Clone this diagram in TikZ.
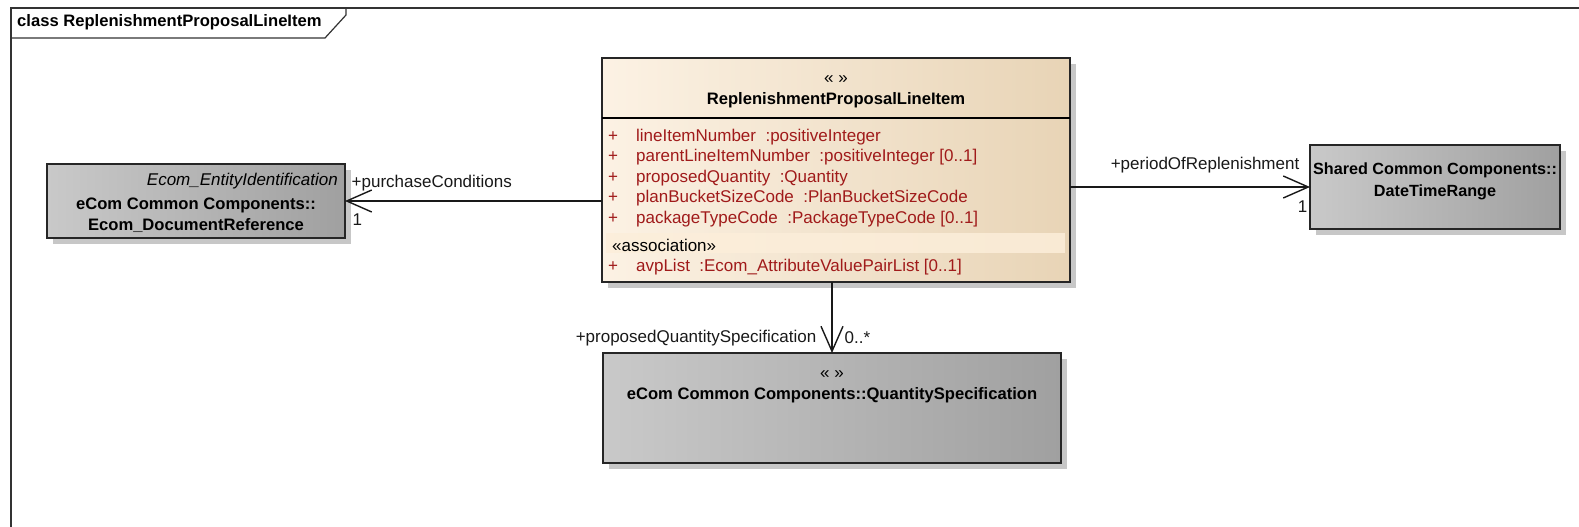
\documentclass[tikz,border=0pt]{standalone}
\usepackage{fontspec}
\setmainfont{Liberation Sans}
\usetikzlibrary{arrows.meta,positioning,shadows}

\definecolor{creamleft}{HTML}{FCF2E4}
\definecolor{creamright}{HTML}{E8D4B6}
\definecolor{greyleft}{HTML}{C9C9C9}
\definecolor{greyright}{HTML}{A0A0A0}
\definecolor{attrred}{HTML}{A01A1A}
\definecolor{assocband}{HTML}{FCEEDA}

\begin{document}
\begin{tikzpicture}[x=1pt,y=-1pt]

      \tikzstyle{classbox}=[rectangle,draw=black!85,line width=1.6pt,
        inner sep=0pt,outer sep=0pt,
        left color=creamleft,right color=creamright,
        drop shadow={shadow xshift=6pt,shadow yshift=-6pt,
          fill=black!22,opacity=1}]
      \tikzstyle{greybox}=[classbox,
        left color=greyleft,right color=greyright]
      \tikzstyle{assoc}=[line width=1.4pt,black!90,
        -{Straight Barb[length=25pt,width=22pt]}]
      \tikzstyle{txt}=[inner sep=0pt,
        font=\fontsize{17}{20.5}\selectfont]
      \tikzstyle{boldtxt}=[inner sep=0pt,
        font=\fontsize{16.6}{21}\selectfont\bfseries]

      \useasboundingbox (0,0) rectangle (1579,527);
      \fill[white] (0,0) rectangle (1579,527);

      % diagram frame
      \draw[black!80,line width=1.2pt] (11,527) -- (11,8) -- (1579,8);
      \draw[black!80,line width=1.2pt]
      (11,38) -- (325,38) -- (346,15) -- (346,8);
      \node(Title)[boldtxt,anchor=west] at (17,22)
      {class ReplenishmentProposalLineItem};

      % main class
      \node(LineItem)[classbox,minimum width=468pt,
        minimum height=224pt] at (836,170) {};
      \draw[line width=1.4pt] ([yshift=-60pt]LineItem.north west)
      -- ([yshift=-60pt]LineItem.north east);
      \node(LineItemSt)[txt] at ([yshift=-22pt]LineItem.north) {« »};
      \node(LineItemName)[boldtxt] at ([yshift=-42pt]LineItem.north)
      {ReplenishmentProposalLineItem};
      \node(LineItemAttr)[txt,text=attrred,anchor=base west]
      at ([xshift=6pt,yshift=-83pt]LineItem.north west)
      {\begin{tabular}[t]{@{}l@{\hspace{18pt}}l@{}}
          + & lineItemNumber\ \ :positiveInteger\\
          + & parentLineItemNumber\ \ :positiveInteger [0..1]\\
          + & proposedQuantity\ \ :Quantity\\
          + & planBucketSizeCode\ \ :PlanBucketSizeCode\\
          + & packageTypeCode\ \ :PackageTypeCode [0..1]
        \end{tabular}};
      \fill[assocband,opacity=0.85]
      ([xshift=4pt,yshift=-175pt]LineItem.north west) rectangle
      ([xshift=-5pt,yshift=-195pt]LineItem.north east);
      \node(AssocSt)[txt,anchor=base west]
      at ([xshift=10pt,yshift=-193pt]LineItem.north west)
      {«association»};
      \node(LineItemAvp)[txt,text=attrred,anchor=base west]
      at ([xshift=6pt,yshift=-213pt]LineItem.north west)
      {\begin{tabular}[t]{@{}l@{\hspace{18pt}}l@{}}
          + & avpList\ \ :Ecom\_AttributeValuePairList [0..1]
        \end{tabular}};

      % referenced classes
      \node(DocRef)[greybox,minimum width=298pt,minimum height=74pt,
        left=257pt of LineItem,yshift=-31pt] {};
      \node(DocRefSt)[txt,font=\fontsize{17}{20.5}\selectfont\itshape,
        anchor=east] at ([xshift=-7pt,yshift=-17pt]DocRef.north east)
      {Ecom\_EntityIdentification};
      \node(DocRefName)[boldtxt,align=center]
      at ([yshift=-51.5pt]DocRef.north)
      {eCom Common Components::\\Ecom\_DocumentReference};

      \node(DateRange)[greybox,minimum width=250pt,minimum height=84pt,
        right=240pt of LineItem,yshift=-17pt] {};
      \node(DateRangeName)[boldtxt,align=center,
        font=\fontsize{16.2}{22}\selectfont\bfseries]
      at ([yshift=-36pt]DateRange.north)
      {Shared Common Components::\\DateTimeRange};

      \node(QtySpec)[greybox,minimum width=458pt,minimum height=110pt,
        below=71pt of LineItem,xshift=-4pt] {};
      \node(QtySpecSt)[txt] at ([yshift=-22pt]QtySpec.north) {« »};
      \node(QtySpecName)[boldtxt] at ([yshift=-42pt]QtySpec.north)
      {eCom Common Components::QuantitySpecification};

      % associations
      \draw [assoc] (LineItem.west |- DocRef.east) -- (DocRef.east)
      node(PurchRole)[txt,anchor=west,pos=1,xshift=6pt,yshift=18pt]
      {+purchaseConditions}
      node(PurchMult)[txt,anchor=west,pos=1,xshift=7pt,yshift=-19pt] {1};
      \draw [assoc] (LineItem.east |- DateRange.west) -- (DateRange.west)
      node(PeriodRole)[txt,anchor=east,pos=1,xshift=-10pt,yshift=22pt]
      {+periodOfReplenishment}
      node(PeriodMult)[txt,anchor=east,pos=1,xshift=-2pt,yshift=-20pt] {1};
      \draw [assoc] (LineItem.south -| QtySpec.north) -- (QtySpec.north)
      node(QtyRole)[txt,anchor=east,pos=1,xshift=-15pt,yshift=15pt]
      {+proposedQuantitySpecification}
      node(QtyMult)[txt,anchor=west,pos=1,xshift=12pt,yshift=15pt] {0..*};

    \end{tikzpicture}
\end{document}
